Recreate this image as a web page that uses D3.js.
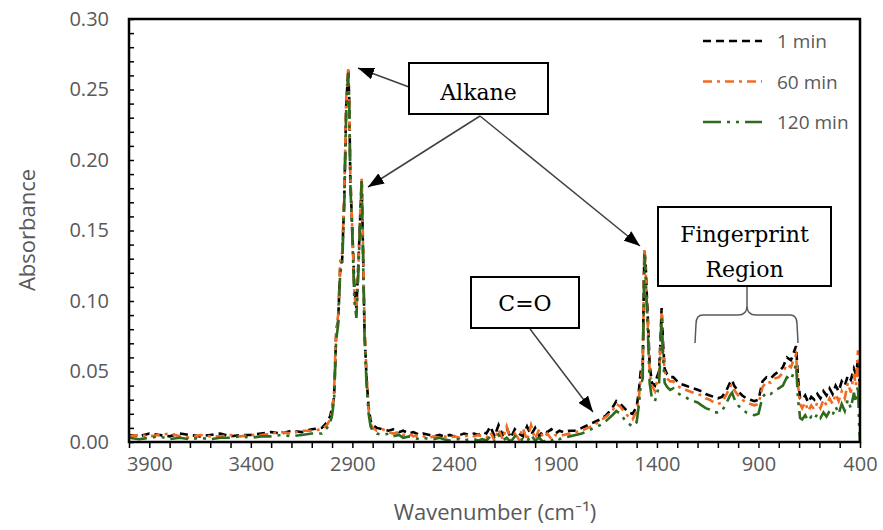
<!DOCTYPE html>
<html>
<head>
<meta charset="utf-8">
<script src="https://cdn.jsdelivr.net/npm/d3@7"></script>
<style>
  body { margin: 0; background: #fff; }
  svg text { font-family: "Open Sans", "Lato", sans-serif; }
</style>
</head>
<body>
<svg id="chart" width="883" height="530"></svg>
<script>
// wavenumber grid (cm-1), shared by the three spectra
const wavenumbers = [
  4000,3950,3900,3850,3800,3750,3700,3650,3600,3550,3500,3450,3400,3350,3300,3250,3200,3150,3100,
  3050,3025,3010,3000,2990,2980,2970,2960,2950,2940,2930,2925,2920,2915,2910,2900,2890,2880,2870,2860,2854,2848,2840,2830,2820,2810,2800,
  2780,2750,2720,2700,2670,2650,2620,2600,2570,2550,2520,2500,2470,2450,2420,2400,2370,2350,2320,2300,2280,2260,
  2240,2220,2200,2180,2160,2140,2120,2100,2080,2060,2040,2020,2000,1980,1960,1940,1920,1900,1880,
  1860,1830,1800,1770,1740,1710,1680,1650,1620,1600,1580,1560,1540,1520,1500,1490,1480,
  1470,1462,1456,1450,1444,1436,1425,1410,1400,1390,1383,1377,1370,1362,1350,1335,
  1320,1300,1280,1260,1240,1220,1200,1180,1160,1140,1120,1100,1080,1060,1040,1030,1020,1000,980,960,940,920,900,880,860,840,820,800,780,760,740,725,715,
  705,695,685,670,655,640,625,610,595,580,565,550,535,520,505,490,475,460,445,430,420,410,405,400
];

const abs1min = [
  0.005,0.004,0.006,0.005,0.004,0.006,0.005,0.004,0.005,0.006,0.004,0.005,0.005,0.006,0.007,0.006,0.008,0.007,0.009,
  0.010,0.014,0.018,0.024,0.032,0.075,0.086,0.123,0.130,0.172,0.240,0.252,0.264,0.240,0.186,0.150,0.110,0.095,0.128,0.165,0.185,0.140,0.078,0.045,0.025,0.015,0.012,
  0.010,0.009,0.008,0.009,0.007,0.008,0.006,0.007,0.005,0.006,0.005,0.004,0.005,0.004,0.005,0.004,0.005,0.006,0.005,0.006,0.005,0.007,
  0.006,0.011,0.004,0.012,0.005,0.010,0.003,0.009,0.006,0.004,0.011,0.005,0.010,0.004,0.008,0.007,0.009,0.006,0.008,
  0.007,0.008,0.008,0.010,0.012,0.014,0.016,0.019,0.024,0.029,0.027,0.024,0.021,0.020,0.025,0.035,0.050,
  0.055,0.136,0.128,0.105,0.085,0.055,0.042,0.040,0.046,0.050,0.070,0.095,0.070,0.052,0.048,0.046,
  0.046,0.043,0.041,0.040,0.039,0.038,0.037,0.036,0.034,0.033,0.032,0.031,0.032,0.036,0.042,0.044,0.040,0.036,0.033,0.031,0.030,0.029,0.030,0.043,0.046,0.045,0.048,0.050,0.053,0.060,0.058,0.064,0.068,
  0.045,0.031,0.030,0.033,0.028,0.032,0.030,0.034,0.031,0.036,0.033,0.038,0.034,0.040,0.036,0.043,0.040,0.047,0.044,0.052,0.048,0.058,0.050,0.035
];

const abs60min = [
  0.004,0.005,0.004,0.005,0.006,0.004,0.003,0.005,0.004,0.004,0.005,0.004,0.005,0.005,0.006,0.007,0.006,0.008,0.008,
  0.009,0.012,0.016,0.022,0.035,0.080,0.090,0.128,0.135,0.175,0.245,0.255,0.266,0.238,0.190,0.148,0.105,0.092,0.125,0.168,0.187,0.145,0.082,0.048,0.023,0.013,0.010,
  0.008,0.009,0.007,0.006,0.007,0.005,0.006,0.004,0.005,0.004,0.003,0.004,0.003,0.004,0.003,0.004,0.003,0.004,0.005,0.004,0.005,0.004,
  0.003,0.007,0.001,0.009,0.002,0.011,0.001,0.006,0.002,0.010,0.001,0.012,0.002,0.009,0.003,0.006,0.002,0.005,0.004,
  0.005,0.006,0.007,0.008,0.010,0.012,0.015,0.018,0.022,0.027,0.025,0.021,0.018,0.016,0.022,0.030,0.045,
  0.052,0.137,0.125,0.100,0.080,0.050,0.040,0.036,0.043,0.047,0.068,0.092,0.066,0.050,0.045,0.043,
  0.043,0.040,0.038,0.037,0.036,0.035,0.034,0.033,0.031,0.030,0.028,0.027,0.028,0.033,0.039,0.041,0.037,0.033,0.030,0.028,0.027,0.026,0.027,0.039,0.043,0.042,0.045,0.046,0.049,0.055,0.053,0.059,0.062,
  0.040,0.027,0.024,0.028,0.022,0.026,0.023,0.028,0.024,0.030,0.026,0.031,0.027,0.034,0.029,0.036,0.031,0.042,0.035,0.048,0.040,0.065,0.045,0.030
];

const abs120min = [
  0.003,0.002,0.003,0.004,0.002,0.003,0.002,0.003,0.002,0.003,0.003,0.004,0.003,0.004,0.004,0.005,0.004,0.005,0.006,
  0.006,0.010,0.013,0.019,0.030,0.072,0.083,0.120,0.126,0.168,0.236,0.250,0.262,0.236,0.183,0.145,0.100,0.088,0.122,0.163,0.186,0.138,0.075,0.040,0.020,0.011,0.008,
  0.006,0.005,0.006,0.004,0.005,0.003,0.004,0.003,0.002,0.003,0.002,0.002,0.003,0.002,0.001,0.002,0.002,0.001,0.002,0.002,0.001,0.002,
  0.001,0.004,0.000,0.005,0.001,0.003,0.000,0.004,0.001,0.002,0.000,0.005,0.001,0.003,0.000,0.002,0.001,0.003,0.002,
  0.003,0.004,0.005,0.006,0.008,0.010,0.012,0.015,0.019,0.022,0.020,0.016,0.013,0.011,0.014,0.025,0.040,
  0.045,0.133,0.120,0.095,0.075,0.042,0.031,0.029,0.034,0.040,0.062,0.088,0.060,0.042,0.039,0.037,
  0.038,0.035,0.033,0.032,0.030,0.029,0.028,0.026,0.024,0.023,0.021,0.021,0.022,0.027,0.033,0.035,0.031,0.026,0.023,0.021,0.020,0.019,0.020,0.032,0.035,0.034,0.037,0.038,0.040,0.046,0.044,0.050,0.055,
  0.030,0.017,0.016,0.019,0.015,0.018,0.016,0.020,0.017,0.021,0.018,0.022,0.019,0.025,0.020,0.027,0.022,0.030,0.024,0.035,0.028,0.040,0.015,0.000
];

const seriesNames = ['1 min', '60 min', '120 min'];
const seriesColors = ['#000000', '#F26B21', '#2E6B1E'];
const seriesDashes = ['8,5', '9,5,3,5', '18,6,3,6,3,6'];

const xTickLabels = [3900, 3400, 2900, 2400, 1900, 1400, 900, 400];
const yTickLabels = [0, 0.05, 0.10, 0.15, 0.20, 0.25, 0.30];

const PLOT = { left: 129, right: 860, top: 19, bottom: 442 };

const svg = d3.select('#chart');

const x = d3.scaleLinear().domain([4000, 400]).range([PLOT.left, PLOT.right]);
const y = d3.scaleLinear().domain([0, 0.30]).range([PLOT.bottom, PLOT.top]);

svg.append('defs').append('clipPath').attr('id', 'plotClip')
  .append('rect')
  .attr('x', PLOT.left).attr('y', PLOT.top - 2)
  .attr('width', PLOT.right - PLOT.left).attr('height', PLOT.bottom - PLOT.top + 2);

// spectra
const allSeries = [abs1min, abs60min, abs120min].map((vals, i) => ({
  name: seriesNames[i],
  color: seriesColors[i],
  dash: seriesDashes[i],
  points: d3.zip(wavenumbers, vals)
}));

const line = d3.line().x(d => x(d[0])).y(d => y(d[1]));

svg.append('g').attr('clip-path', 'url(#plotClip)')
  .selectAll('path')
  .data(allSeries)
  .enter()
  .append('path')
  .attr('d', d => line(d.points))
  .attr('fill', 'none')
  .attr('stroke', d => d.color)
  .attr('stroke-width', 2.6)
  .attr('stroke-dasharray', d => d.dash);

// frame
svg.append('rect')
  .attr('x', PLOT.left).attr('y', PLOT.top)
  .attr('width', PLOT.right - PLOT.left).attr('height', PLOT.bottom - PLOT.top)
  .attr('fill', 'none').attr('stroke', '#000').attr('stroke-width', 2.5);

// minor ticks, y inside, x outside
svg.append('g')
  .attr('transform', `translate(${PLOT.left},0)`)
  .call(d3.axisRight(y).tickValues(d3.range(0, 0.3001, 0.01)).tickSize(5).tickFormat(''))
  .call(g => g.select('.domain').remove())
  .call(g => g.selectAll('line').attr('stroke', '#000').attr('stroke-width', 1.5));

svg.append('g')
  .attr('transform', `translate(0,${PLOT.bottom})`)
  .call(d3.axisBottom(x).tickValues(d3.range(4000, 399, -100)).tickSize(6).tickFormat(''))
  .call(g => g.select('.domain').remove())
  .call(g => g.selectAll('line').attr('stroke', '#000').attr('stroke-width', 1.5));

// tick labels
svg.append('g')
  .attr('transform', `translate(${PLOT.left},0)`)
  .call(d3.axisLeft(y).tickValues(yTickLabels).tickSize(0).tickPadding(20).tickFormat(d3.format('.2f')))
  .call(g => g.select('.domain').remove())
  .call(g => g.selectAll('text').attr('fill', '#595959').attr('font-size', 20)
    .style('font-family', '"Open Sans", sans-serif'));

svg.append('g')
  .attr('transform', `translate(0,${PLOT.bottom})`)
  .call(d3.axisBottom(x).tickValues(xTickLabels).tickSize(0).tickPadding(15).tickFormat(d3.format('d')))
  .call(g => g.select('.domain').remove())
  .call(g => g.selectAll('text').attr('fill', '#595959').attr('font-size', 20)
    .style('font-family', '"Open Sans", sans-serif'));

// axis titles
svg.append('text')
  .attr('transform', 'translate(35,230) rotate(-90)')
  .attr('text-anchor', 'middle')
  .attr('fill', '#595959').attr('font-size', 22)
  .text('Absorbance');

svg.append('text')
  .attr('x', 495).attr('y', 520)
  .attr('text-anchor', 'middle')
  .attr('fill', '#595959').attr('font-size', 22)
  .text('Wavenumber (cm\u207B\u00B9)');

// legend
const legend = svg.append('g')
  .selectAll('g')
  .data(allSeries)
  .enter()
  .append('g')
  .attr('transform', (d, i) => `translate(703,${41 + i * 40.5})`);

legend.append('line')
  .attr('x1', 0).attr('x2', 59).attr('y1', 0).attr('y2', 0)
  .attr('stroke', d => d.color).attr('stroke-width', 2.6)
  .attr('stroke-dasharray', d => d.dash);

legend.append('text')
  .attr('x', 74).attr('y', 7)
  .attr('fill', '#595959').attr('font-size', 19)
  .text(d => d.name);

// annotations
svg.select('defs').append('marker')
  .attr('id', 'arrow')
  .attr('markerUnits', 'userSpaceOnUse')
  .attr('viewBox', '0 0 16 12')
  .attr('markerWidth', 16).attr('markerHeight', 12)
  .attr('refX', 16).attr('refY', 6)
  .attr('orient', 'auto')
  .append('path')
  .attr('d', 'M0,0 L16,6 L0,12 Z')
  .attr('fill', '#000');

const arrows = [
  [409, 87, 358, 68],
  [480, 116, 368, 187],
  [480, 116, 640, 246],
  [530, 329, 593, 412]
];

svg.append('g').selectAll('line')
  .data(arrows)
  .enter()
  .append('line')
  .attr('x1', d => d[0]).attr('y1', d => d[1])
  .attr('x2', d => d[2]).attr('y2', d => d[3])
  .attr('stroke', '#404040').attr('stroke-width', 1.5)
  .attr('marker-end', 'url(#arrow)');

const boxes = [
  { x: 409, y: 63, w: 139, h: 51, lines: ['Alkane'], base: [100] },
  { x: 471, y: 277, w: 108, h: 51, lines: ['C=O'], base: [311] },
  { x: 658, y: 207, w: 173, h: 79, lines: ['Fingerprint', 'Region'], base: [242, 277] }
];

const boxG = svg.append('g').selectAll('g')
  .data(boxes)
  .enter()
  .append('g');

boxG.append('rect')
  .attr('x', d => d.x).attr('y', d => d.y)
  .attr('width', d => d.w).attr('height', d => d.h)
  .attr('fill', '#fff').attr('stroke', '#000').attr('stroke-width', 2);

boxG.each(function(d) {
  d3.select(this).selectAll('text')
    .data(d.lines)
    .enter()
    .append('text')
    .attr('x', d.x + d.w / 2)
    .attr('y', (t, i) => d.base[i])
    .attr('text-anchor', 'middle')
    .attr('font-size', 22)
    .style('font-family', '"DejaVu Serif", "Liberation Serif", serif')
    .attr('fill', '#000')
    .text(t => t);
});

// curly brace under the fingerprint box
svg.append('path')
  .attr('d', 'M747,287 L747,306 Q747,315 738,315 L703,315 Q696,315 696,324 L695,343 ' +
             'M747,306 Q747,315 756,315 L790,315 Q797,315 797,324 L798,343')
  .attr('fill', 'none').attr('stroke', '#595959').attr('stroke-width', 1.5);
</script>
</body>
</html>
